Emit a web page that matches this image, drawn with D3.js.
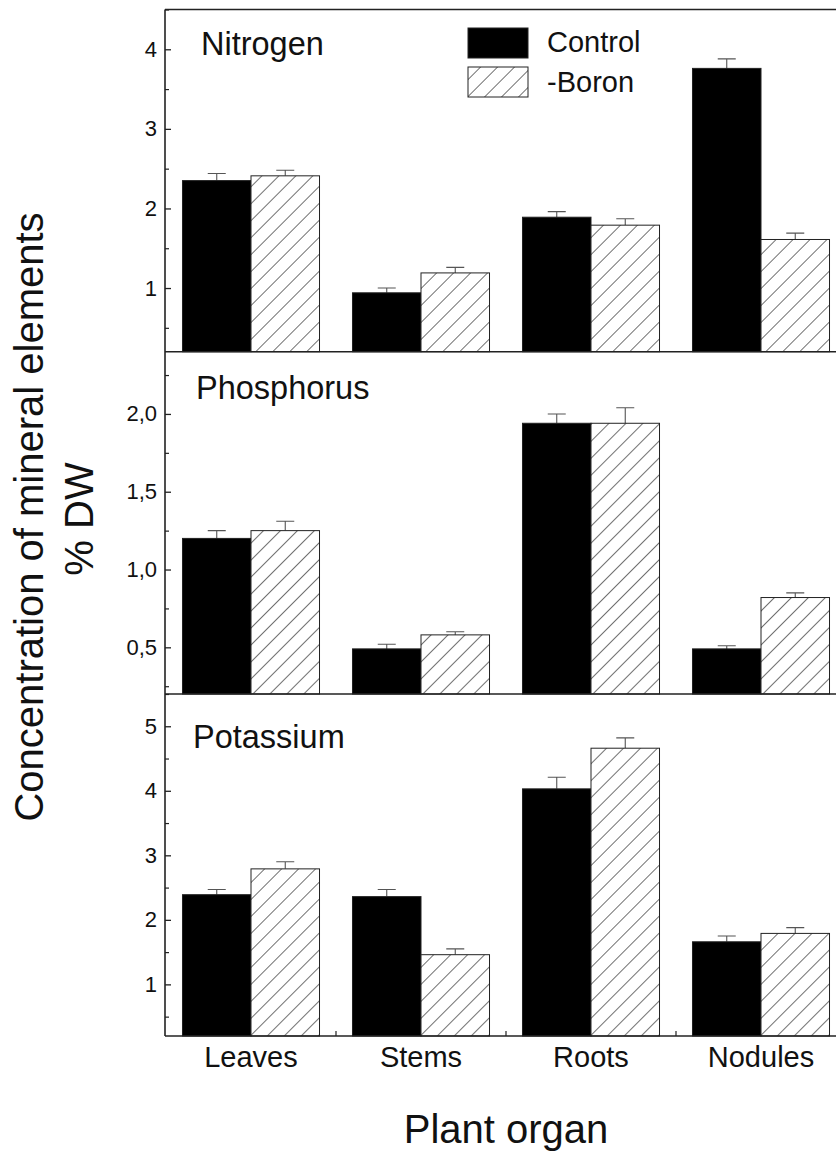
<!DOCTYPE html>
<html>
<head>
<meta charset="utf-8">
<script src="https://cdn.jsdelivr.net/npm/d3@7"></script>
<style>
  body { margin: 0; background: #fff; }
  svg { display: block; font-family: "Liberation Sans", Arial, sans-serif; }
</style>
</head>
<body>
<div id="chart"></div>
<script>
// categories and series
const organs = ["Leaves", "Stems", "Roots", "Nodules"];
const seriesNames = ["Control", "-Boron"];

// values (% DW) and their error bars
const nitrogenControl = [2.35, 0.94, 1.89, 3.76];
const nitrogenControlErr = [0.09, 0.06, 0.07, 0.12];
const nitrogenBoron = [2.41, 1.19, 1.79, 1.61];
const nitrogenBoronErr = [0.07, 0.07, 0.08, 0.08];

const phosphorusControl = [1.20, 0.49, 1.94, 0.49];
const phosphorusControlErr = [0.05, 0.03, 0.06, 0.02];
const phosphorusBoron = [1.25, 0.58, 1.94, 0.82];
const phosphorusBoronErr = [0.06, 0.02, 0.10, 0.03];

const potassiumControl = [2.39, 2.36, 4.03, 1.66];
const potassiumControlErr = [0.08, 0.11, 0.18, 0.09];
const potassiumBoron = [2.79, 1.46, 4.66, 1.79];
const potassiumBoronErr = [0.11, 0.09, 0.16, 0.09];

// y tick values per panel
const nitrogenTicks = [1, 2, 3, 4];
const phosphorusTicks = [0.5, 1.0, 1.5, 2.0];
const potassiumTicks = [1, 2, 3, 4, 5];

const width = 836, height = 1155;
const left = 165;
const ink = "#222";

const panels = [
  { title: "Nitrogen", domain: [0.2, 4.5], ticks: nitrogenTicks, minor: 0.5, top: 9.5, bottom: 351.7,
    control: nitrogenControl, controlErr: nitrogenControlErr, boron: nitrogenBoron, boronErr: nitrogenBoronErr,
    fmt: d3.format("d"), titleX: 201, titleY: 55 },
  { title: "Phosphorus", domain: [0.2, 2.4], ticks: phosphorusTicks, minor: 0.25, top: 351.7, bottom: 694,
    control: phosphorusControl, controlErr: phosphorusControlErr, boron: phosphorusBoron, boronErr: phosphorusBoronErr,
    fmt: d => d3.format(".1f")(d).replace(".", ","), titleX: 196, titleY: 399 },
  { title: "Potassium", domain: [0.2, 5.5], ticks: potassiumTicks, minor: 0.5, top: 694, bottom: 1036,
    control: potassiumControl, controlErr: potassiumControlErr, boron: potassiumBoron, boronErr: potassiumBoronErr,
    fmt: d3.format("d"), titleX: 193, titleY: 748 }
];

const svg = d3.select("#chart").append("svg")
  .attr("width", width)
  .attr("height", height);

// hatch pattern for the -Boron bars
const defs = svg.append("defs");
defs.append("pattern")
  .attr("id", "hatch")
  .attr("patternUnits", "userSpaceOnUse")
  .attr("width", 12)
  .attr("height", 12)
  .attr("patternTransform", "rotate(45)")
  .call(p => {
    p.append("rect").attr("width", 12).attr("height", 12).attr("fill", "#fff");
    p.append("line").attr("x1", 0).attr("y1", 0).attr("x2", 0).attr("y2", 12)
      .attr("stroke", "#333").attr("stroke-width", 1.4);
  });

// x scales, shared by all panels
const x0 = d3.scaleBand()
  .domain(organs)
  .range([166, 846])
  .paddingInner(0.194)
  .paddingOuter(0.097);

const x1 = d3.scaleBand()
  .domain(seriesNames)
  .range([0, x0.bandwidth()]);

const fills = { "Control": "#000", "-Boron": "url(#hatch)" };

panels.forEach((pn, pi) => {
  const y = d3.scaleLinear().domain(pn.domain).range([pn.bottom, pn.top]);
  const g = svg.append("g");

  const rows = organs.map((o, i) => ({
    organ: o,
    bars: [
      { name: "Control", value: pn.control[i], err: pn.controlErr[i] },
      { name: "-Boron", value: pn.boron[i], err: pn.boronErr[i] }
    ]
  }));

  const groups = g.selectAll(".grp")
    .data(rows)
    .enter().append("g")
    .attr("class", "grp")
    .attr("transform", d => `translate(${x0(d.organ)},0)`);

  // error bars (upper only)
  groups.selectAll(".err")
    .data(d => d.bars)
    .enter().append("path")
    .attr("class", "err")
    .attr("fill", "none")
    .attr("stroke", "#555")
    .attr("stroke-width", 1.1)
    .attr("d", d => {
      const cx = x1(d.name) + x1.bandwidth() / 2;
      const yt = y(d.value + d.err);
      return `M${cx},${y(d.value)}V${yt}M${cx - 9},${yt}H${cx + 9}`;
    });

  groups.selectAll(".bar")
    .data(d => d.bars)
    .enter().append("rect")
    .attr("class", "bar")
    .attr("x", d => x1(d.name))
    .attr("width", x1.bandwidth())
    .attr("y", d => y(d.value))
    .attr("height", d => y(pn.domain[0]) - y(d.value))
    .attr("fill", d => fills[d.name])
    .attr("stroke", ink)
    .attr("stroke-width", 1);

  // major ticks, inward
  const yAxis = d3.axisLeft(y)
    .tickValues(pn.ticks)
    .tickSize(-6)
    .tickPadding(8)
    .tickFormat(pn.fmt);

  const ag = g.append("g")
    .attr("transform", `translate(${left},0)`)
    .call(yAxis);
  ag.select(".domain").remove();
  ag.selectAll("line").attr("stroke", ink).attr("stroke-width", 1.3);
  ag.selectAll("text")
    .attr("font-size", 22)
    .attr("fill", "#111")
    .attr("font-family", "Liberation Sans, Arial, sans-serif");

  // minor ticks
  const minorVals = d3.range(pn.domain[0], pn.domain[1] + 1e-9, pn.minor / 100)
    .map(v => Math.round(v * 1000) / 1000)
    .filter(v => Math.abs(v / pn.minor - Math.round(v / pn.minor)) < 1e-6 && !pn.ticks.some(t => Math.abs(t - v) < 1e-6));
  const mg = g.append("g")
    .attr("transform", `translate(${left},0)`)
    .call(d3.axisLeft(y).tickValues(minorVals).tickSize(-4).tickFormat(""));
  mg.select(".domain").remove();
  mg.selectAll("line").attr("stroke", ink).attr("stroke-width", 1.2);

  // top border / separator
  g.append("line")
    .attr("x1", left).attr("x2", width)
    .attr("y1", pn.top).attr("y2", pn.top)
    .attr("stroke", ink).attr("stroke-width", 1.6);

  g.append("text")
    .attr("x", pn.titleX)
    .attr("y", pn.titleY)
    .attr("font-size", 32.5)
    .attr("fill", "#111")
    .text(pn.title);

  if (pi === panels.length - 1) {
    g.append("line")
      .attr("x1", left).attr("x2", width)
      .attr("y1", pn.bottom).attr("y2", pn.bottom)
      .attr("stroke", ink).attr("stroke-width", 1.6);

    // small ticks between organ groups
    const between = organs.slice(1).map(o => x0(o) - x0.step() * x0.paddingInner() / 2);
    g.selectAll(".xt")
      .data(between)
      .enter().append("line")
      .attr("x1", d => d).attr("x2", d => d)
      .attr("y1", pn.bottom).attr("y2", pn.bottom - 5)
      .attr("stroke", ink).attr("stroke-width", 1.2);

    g.selectAll(".xl")
      .data(organs)
      .enter().append("text")
      .attr("x", d => x0(d) + x0.bandwidth() / 2)
      .attr("y", 1067)
      .attr("text-anchor", "middle")
      .attr("font-size", 29)
      .attr("fill", "#111")
      .text(d => d);
  }
});

// left axis line
svg.append("line")
  .attr("x1", left).attr("x2", left)
  .attr("y1", panels[0].top).attr("y2", panels[2].bottom)
  .attr("stroke", ink).attr("stroke-width", 1.6);

// legend
const legend = svg.append("g").attr("transform", "translate(468,28)");
seriesNames.forEach((s, i) => {
  legend.append("rect")
    .attr("x", 0).attr("y", i * 39)
    .attr("width", 60).attr("height", 30)
    .attr("fill", fills[s])
    .attr("stroke", ink).attr("stroke-width", 1);
  legend.append("text")
    .attr("x", 79).attr("y", i * 40 + 24)
    .attr("font-size", 29)
    .attr("fill", "#111")
    .text(s);
});

// axis titles
svg.append("text")
  .attr("transform", "translate(43,517) rotate(-90)")
  .attr("text-anchor", "middle")
  .attr("font-size", 40)
  .attr("fill", "#111")
  .text("Concentration of mineral elements");

svg.append("text")
  .attr("transform", "translate(93,519) rotate(-90)")
  .attr("text-anchor", "middle")
  .attr("font-size", 40)
  .attr("fill", "#111")
  .text("% DW");

svg.append("text")
  .attr("x", 506)
  .attr("y", 1143)
  .attr("text-anchor", "middle")
  .attr("font-size", 40)
  .attr("fill", "#111")
  .text("Plant organ");
</script>
</body>
</html>
